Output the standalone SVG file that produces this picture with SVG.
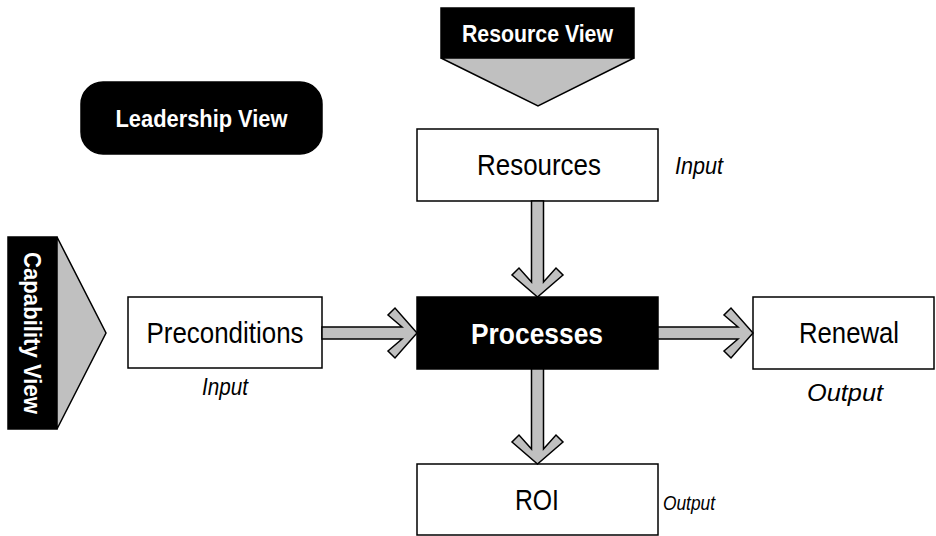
<svg xmlns="http://www.w3.org/2000/svg" width="936" height="536" viewBox="0 0 936 536">
<style>
.box{fill:#fff;stroke:#000;stroke-width:1.5}
.blk{fill:#000;stroke:#000;stroke-width:1.5}
.tri{fill:#c0c0c0;stroke:#000;stroke-width:1.5;stroke-linejoin:miter}
.arr{fill:#c0c0c0;stroke:#000;stroke-width:1.5;stroke-linejoin:miter}
text{font-family:"Liberation Sans",Arial,sans-serif;text-anchor:middle}
.lbl{font-size:29px;fill:#000}
.wb{font-size:24px;font-weight:bold;fill:#fff}
.pw{font-size:30px;font-weight:bold;fill:#fff}
.it{font-size:23px;font-style:italic;fill:#000}
.its{font-size:21px;font-style:italic;fill:#000}
</style>
<rect width="936" height="536" fill="#fff"/>
<g id="resource-view">
<rect class="blk" x="441" y="8" width="193" height="50"/>
<polygon class="tri" points="441,58 634,58 538,106"/>
<text class="wb" x="537.5" y="42" textLength="151" lengthAdjust="spacingAndGlyphs">Resource View</text>
</g>
<g id="leadership-view">
<rect class="blk" x="81" y="82" width="241" height="72" rx="22"/>
<text class="wb" x="201.5" y="127" textLength="172" lengthAdjust="spacingAndGlyphs">Leadership View</text>
</g>
<g id="capability-view">
<rect class="blk" x="8" y="237" width="49" height="192"/>
<polygon class="tri" points="57,237 57,429 106,333"/>
<text class="wb" transform="translate(24,333) rotate(90)" x="0" y="0" textLength="162" lengthAdjust="spacingAndGlyphs">Capability View</text>
</g>
<g id="resources">
<rect class="box" x="417" y="129" width="241" height="72"/>
<text class="lbl" x="539" y="175" textLength="124" lengthAdjust="spacingAndGlyphs">Resources</text>
</g>
<g id="preconditions">
<rect class="box" x="128" y="297" width="194" height="71"/>
<text class="lbl" x="225" y="343" textLength="157" lengthAdjust="spacingAndGlyphs">Preconditions</text>
</g>
<g id="processes">
<rect class="blk" x="417" y="297" width="241" height="72"/>
<text class="pw" x="537" y="344" textLength="132" lengthAdjust="spacingAndGlyphs">Processes</text>
</g>
<g id="renewal">
<rect class="box" x="753" y="297" width="181" height="72"/>
<text class="lbl" x="849" y="343" textLength="100" lengthAdjust="spacingAndGlyphs">Renewal</text>
</g>
<g id="roi">
<rect class="box" x="417" y="464" width="241" height="71"/>
<text class="lbl" x="537" y="510" textLength="44" lengthAdjust="spacingAndGlyphs">ROI</text>
</g>
<g id="labels">
<text class="it" x="699" y="174" textLength="48" lengthAdjust="spacingAndGlyphs">Input</text>
<text class="it" x="225" y="395" textLength="46" lengthAdjust="spacingAndGlyphs">Input</text>
<text class="it" x="845" y="401" textLength="76" lengthAdjust="spacingAndGlyphs">Output</text>
<text class="its" x="689" y="510" textLength="52" lengthAdjust="spacingAndGlyphs">Output</text>
</g>
<g id="connectors">
<polygon class="arr" points="322,327 402,327 388,315 395,308 417,333 395,358 388,351 402,339 322,339"/>
<polygon class="arr" points="658,327 738,327 724,315 731,308 753,333 731,358 724,351 738,339 658,339"/>
<polygon class="arr" points="531.5,201 531.5,282 519,268 512,275 537.5,297 563,275 556,268 543.5,282 543.5,201"/>
<polygon class="arr" points="531.5,369 531.5,449 519,435 512,442 537.5,464 563,442 556,435 543.5,449 543.5,369"/>
</g>
</svg>
